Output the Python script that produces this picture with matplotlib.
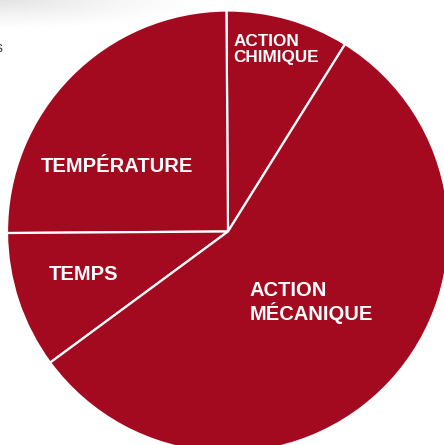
import numpy as np
import matplotlib
matplotlib.use('Agg')
import matplotlib.pyplot as plt

# parts du cercle de Sinner (en %)
categories = ['ACTION\nCHIMIQUE', 'TEMPÉRATURE', 'TEMPS', 'ACTION\nMÉCANIQUE']
valeurs = [9, 25, 10, 56]

W, H = 444, 445
rouge = '#a30a1f'

fig = plt.figure(figsize=(W / 100, H / 100), dpi=100)
ax = fig.add_axes([0, 0, 1, 1])

# fond gris clair en haut à gauche (reste de la page d'origine)
gx, gy = np.meshgrid(np.linspace(0, 1, 200), np.linspace(0, 1, 200))
fond = np.clip(1 - np.hypot(gx * 1.6, gy * 4.0), 0, 1)
ax.imshow(1 - 0.11 * fond ** 1.3, cmap='gray', vmin=0, vmax=1,
          extent=(0, 330, H - 120, H), origin='upper', zorder=0, aspect='auto')

def yb(y):
    # y lu depuis le haut de l'image -> y des données
    return H - y

ax.pie(valeurs, colors=[rouge] * len(valeurs), startangle=58, counterclock=True,
       center=(228, yb(231.5)), radius=221,
       wedgeprops=dict(edgecolor='white', linewidth=1.6), frame=True)

ax.set_xlim(0, W)
ax.set_ylim(0, H)
ax.set_aspect('auto')
ax.axis('off')

police = dict(family='Liberation Sans', weight='bold', color='white')

ax.text(41, yb(172.5), 'TEMPÉRATURE', fontsize=14.5, ha='left', va='baseline', **police)
ax.text(48.5, yb(280.5), 'TEMPS', fontsize=14.5, ha='left', va='baseline', **police)
ax.text(249.5, yb(296), 'ACTION', fontsize=14.5, ha='left', va='baseline', **police)
ax.text(249.5, yb(320), 'MÉCANIQUE', fontsize=14.5, ha='left', va='baseline', **police)
ax.text(233.5, yb(46), 'ACTION', fontsize=12.3, ha='left', va='baseline', **police)
ax.text(233.5, yb(62), 'CHIMIQUE', fontsize=12.3, ha='left', va='baseline', **police)

# bout de texte coupé au bord gauche
ax.text(-4, yb(52), 's', fontsize=10, color='#333333', family='Liberation Sans',
        ha='left', va='baseline')

fig.savefig('out.png', dpi=100)
